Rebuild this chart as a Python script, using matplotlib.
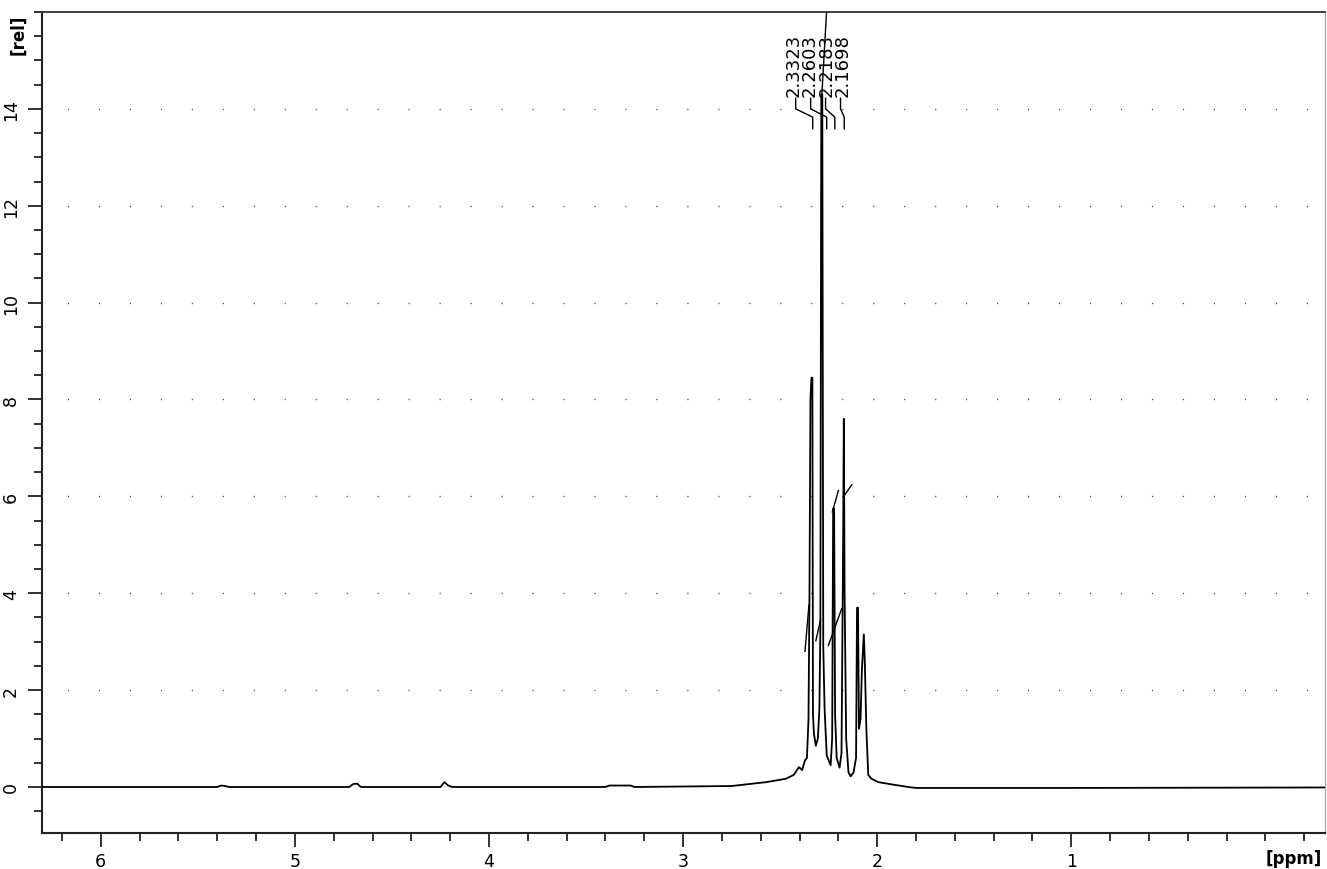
import matplotlib
matplotlib.use("Agg")
import matplotlib.pyplot as plt
from matplotlib.ticker import MultipleLocator

# ---- data ----
spec_ppm = [6.30, 5.40, 5.38, 5.36, 5.34, 4.72, 4.70, 4.68, 4.66, 4.25, 4.23, 4.21, 4.19,
            3.40, 3.38, 3.27, 3.25, 2.75, 2.572, 2.47, 2.43, 2.403, 2.387, 2.372, 2.362,
            2.354, 2.349, 2.344, 2.339, 2.334, 2.331, 2.326, 2.316, 2.306, 2.298, 2.293,
            2.288, 2.283, 2.278, 2.271, 2.260, 2.250, 2.240, 2.232, 2.227, 2.222, 2.217,
            2.209, 2.194, 2.184, 2.176, 2.172, 2.168, 2.160, 2.148, 2.137, 2.122, 2.109,
            2.104, 2.099, 2.094, 2.086, 2.079, 2.069, 2.064, 2.056, 2.046, 2.030, 1.994,
            1.92, 1.84, 1.80, 1.00, -0.31]
spec_int = [0.00, 0.00, 0.03, 0.02, 0.00, 0.00, 0.06, 0.07, 0.00, 0.00, 0.10, 0.03, 0.00,
            0.00, 0.03, 0.03, 0.00, 0.02, 0.10, 0.17, 0.25, 0.41, 0.35, 0.55, 0.60,
            1.40, 4.00, 8.00, 8.45, 8.45, 1.50, 1.10, 0.85, 1.00, 1.60, 3.20,
            14.30, 14.30, 2.90, 1.60, 0.65, 0.55, 0.45, 1.00, 5.75, 5.75, 1.50,
            0.60, 0.40, 0.70, 4.80, 7.60, 4.00, 1.00, 0.30, 0.22, 0.30, 0.60,
            3.70, 3.70, 1.20, 1.40, 2.40, 3.15, 2.60, 1.20, 0.25, 0.17, 0.10,
            0.05, 0.00, -0.02, -0.02, -0.01]

# integral curve fragments: (ppm start, ppm end), (int start, int end)
integral_ppm = [(2.372, 2.352), (2.316, 2.292), (2.252, 2.183),
                (2.231, 2.200), (2.174, 2.131), (2.285, 2.254)]
integral_val = [(2.80, 3.75), (3.02, 3.45), (2.92, 3.68),
                (5.68, 6.12), (5.99, 6.24), (14.30, 16.5)]

peak_labels = ["2.3323", "2.2603", "2.2183", "2.1698"]
peak_ppm = [2.3323, 2.2603, 2.2183, 2.1698]
label_ppm = [2.420, 2.343, 2.266, 2.189]

x_major = [6, 5, 4, 3, 2, 1]
y_major = [0, 2, 4, 6, 8, 10, 12, 14]

# ---- figure ----
W, H = 1327, 870
fig = plt.figure(figsize=(W / 100, H / 100), dpi=100)
ax = fig.add_axes([42 / W, 1 - 834 / H, (1325 - 42) / W, (834 - 13) / H])

ax.set_xlim(6.303, -0.307)
ax.set_ylim(-0.95, 16.0)

# dotted grid rows
for yv in y_major[1:]:
    ax.axhline(yv, color="#444444", lw=1.0, linestyle=(4, (0.8, 21.5)), zorder=1)

ax.plot(spec_ppm, spec_int, color="black", lw=1.3, zorder=3)

for (p0, p1), (v0, v1) in zip(integral_ppm, integral_val):
    ax.plot([p0, p1], [v0, v1], color="black", lw=1.0, zorder=3)

# peak labels: one stacked, rotated text block, plus leader lines
ax.text(sum(label_ppm) / len(label_ppm), 14.27, "\n".join(peak_labels),
        rotation=90, ha="center", va="bottom", multialignment="left",
        linespacing=0.87, fontsize=13, family="DejaVu Sans", color="black")
for pp, lp in zip(peak_ppm, label_ppm):
    ax.plot([lp, lp, pp, pp], [14.22, 14.0, 13.83, 13.59], color="black", lw=1.0, zorder=3)

# ticks
ax.xaxis.set_minor_locator(MultipleLocator(0.2))
ax.yaxis.set_minor_locator(MultipleLocator(0.5))
ax.set_xticks(x_major)
ax.set_xticklabels([str(v) for v in x_major])
ax.set_yticks(y_major)
ax.set_yticklabels([str(v) for v in y_major], rotation=90, va="center")

ax.tick_params(axis="both", which="major", direction="out", length=10, width=1.3,
               labelsize=12.5, color="#222222")
ax.tick_params(axis="both", which="minor", direction="out", length=6, width=1.3,
               color="#222222")
ax.tick_params(axis="x", which="major", pad=4)
ax.tick_params(axis="y", which="major", pad=6)

for side in ["left", "bottom"]:
    ax.spines[side].set_linewidth(1.5)
    ax.spines[side].set_color("#222222")
ax.spines["top"].set_linewidth(1.3)
ax.spines["top"].set_color("#333333")
ax.spines["right"].set_linewidth(1.0)
ax.spines["right"].set_color("#aaaaaa")

fig.text(1322 / W, 1 - 859 / H, "[ppm]", ha="right", va="center",
         fontsize=12, fontweight="bold")
fig.text(18 / W, 1 - 35 / H, "[rel]", ha="center", va="center", rotation=90,
         fontsize=12, fontweight="bold")

fig.savefig("out.png", dpi=100)
